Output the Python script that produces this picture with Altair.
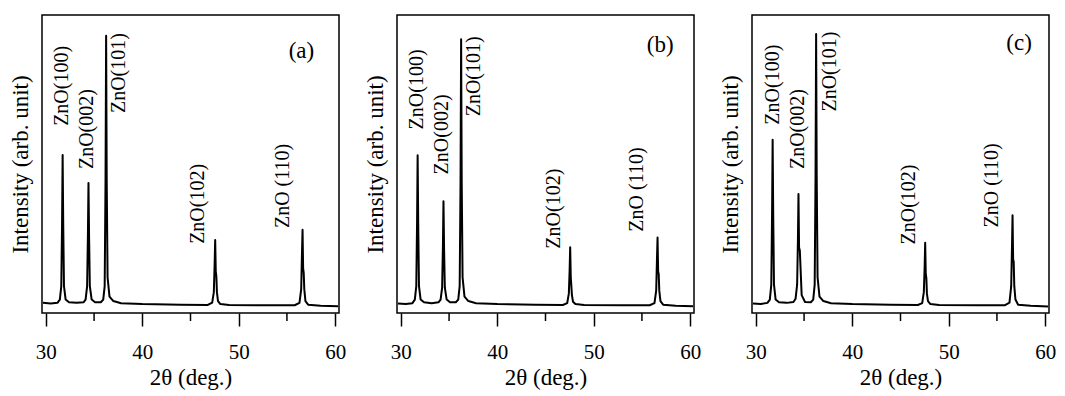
import altair as alt
import pandas as pd

# 2-theta sample positions (deg.)
two_theta = [29.7, 30.5, 31.2, 31.45, 31.6, 31.68, 31.74, 31.8, 31.88, 32.05, 32.4,
             33.2, 33.9, 34.12, 34.28, 34.36, 34.42, 34.48, 34.56, 34.75, 35.1,
             35.7, 35.95, 36.1, 36.19, 36.25, 36.31, 36.4, 36.6, 37.0, 37.8,
             40.0, 44.0, 46.8,
             47.25, 47.42, 47.5, 47.56, 47.62, 47.68, 47.74, 47.85, 48.1, 49.0,
             53.0, 55.8, 56.3, 56.48, 56.56, 56.62, 56.68, 56.74, 56.8, 56.92, 57.2, 58.5, 60.3]

intensity_a = [3.4, 3.2, 3.4, 4.5, 9, 30, 53, 30, 9, 4.5, 3.6,
               3.4, 3.6, 4.5, 9, 26, 43.6, 26, 9, 4.5, 3.6,
               3.6, 4.5, 9, 45, 93, 45, 12, 5.5, 4, 3.3,
               3.0, 2.8, 2.7,
               3.5, 7, 16, 24.5, 14, 12.4, 7, 4, 3, 2.7,
               2.6, 2.6, 3.4, 8, 20, 27.9, 15, 13.5, 8, 4, 2.8, 2.4, 2.3]

intensity_b = [3.2, 3.0, 3.3, 4.5, 9, 30, 52.9, 30, 9, 4.5, 3.6,
               3.3, 3.6, 4.5, 8.5, 22, 37.5, 22, 8.5, 4.5, 3.6,
               3.6, 4.5, 9, 44, 91.9, 44, 12, 5.5, 4, 3.3,
               3.0, 2.8, 2.7,
               3.3, 6.5, 14, 22.1, 12, 9, 6, 3.8, 3, 2.7,
               2.6, 2.6, 3.3, 7.5, 18, 25.3, 14, 13, 7.5, 4, 2.8, 2.4, 2.3]

intensity_c = [3.2, 3.0, 3.4, 4.5, 9.5, 33, 58.1, 33, 9.5, 4.5, 3.6,
               3.4, 3.7, 4.8, 9.5, 24, 39.9, 22, 21, 6, 3.7,
               3.6, 4.5, 9.5, 46, 93.6, 46, 12, 5.5, 4, 3.3,
               3.0, 2.8, 2.7,
               3.3, 7, 15, 23.6, 13, 11.8, 6.5, 4, 3, 2.7,
               2.6, 2.6, 3.5, 9, 22, 32.8, 18, 17.2, 9, 4.5, 2.8, 2.4, 2.2]

peak_labels_a = ["ZnO(100)", "ZnO(002)", "ZnO(101)", "ZnO(102)", "ZnO (110)"]
peak_labels_b = ["ZnO(100)", "ZnO(002)", "ZnO(101)", "ZnO(102)", "ZnO (110)"]
peak_labels_c = ["ZnO(100)", "ZnO(002)", "ZnO(101)", "ZnO(102)", "ZnO (110)"]

label_x_a = [31.64, 34.31, 37.6, 45.79, 54.58]
label_y_a = [62.8, 48.3, 67.1, 23.2, 28.5]
label_x_b = [31.72, 34.29, 37.62, 45.85, 54.5]
label_y_b = [61.6, 46.5, 66.0, 21.6, 27.3]
label_x_c = [31.75, 34.35, 37.7, 45.9, 54.53]
label_y_c = [63.2, 48.3, 67.6, 23.0, 28.7]

panel_tags = ["(a)", "(b)", "(c)"]
tag_x = [56.5, 56.9, 57.3]
tag_y = [88.0, 90.0, 90.5]

minor_ticks = [35, 45, 55]

FONT = "Liberation Serif"
W, H = 297, 298

x_scale = alt.Scale(domain=[29.6, 60.4], nice=False, zero=False)
y_scale = alt.Scale(domain=[0, 100], nice=False)
x_axis = alt.Axis(values=[30, 40, 50, 60], title="2θ (deg.)", tickSize=13,
                  tickWidth=1.5, tickColor="black", labelPadding=15,
                  domain=False, grid=False, labelFontSize=21, labelFont=FONT,
                  labelColor="black", titleFont=FONT, titleColor="black",
                  titleFontWeight="normal", titleFontSize=23, titlePadding=4,
                  format="d")
y_axis = alt.Axis(labels=False, ticks=False, domain=False, grid=False,
                  title="Intensity (arb. unit)", titleFontSize=23, titleFont=FONT,
                  titleColor="black", titleFontWeight="normal", titlePadding=10)


def xe():
    return alt.X("two_theta:Q", scale=x_scale, axis=x_axis)


def ye():
    return alt.Y("intensity:Q", scale=y_scale, axis=y_axis)


def make_panel(intensity, labels, lx, ly, tag, tx, ty):
    df = pd.DataFrame({"two_theta": two_theta, "intensity": intensity})
    line = alt.Chart(df).mark_line(color="black", strokeWidth=2, strokeJoin="round").encode(
        x=xe(), y=ye())
    lab_df = pd.DataFrame({"two_theta": lx, "intensity": ly, "label": labels})
    text = alt.Chart(lab_df).mark_text(angle=270, align="left", baseline="middle",
                                       font=FONT, fontSize=20, color="black").encode(
        x=xe(), y=ye(), text="label:N")
    tag_df = pd.DataFrame({"two_theta": [tx], "intensity": [ty], "label": [tag]})
    tag_text = alt.Chart(tag_df).mark_text(align="center", baseline="middle",
                                           font=FONT, fontSize=23, color="black").encode(
        x=xe(), y=ye(), text="label:N")
    minor_df = pd.DataFrame({"two_theta": minor_ticks})
    minor = alt.Chart(minor_df).mark_rule(color="black", strokeWidth=1.5).encode(
        x=xe(), y=alt.value(H), y2=alt.value(H + 8))
    return alt.layer(line, text, tag_text, minor).properties(width=W, height=H)


pa = make_panel(intensity_a, peak_labels_a, label_x_a, label_y_a, panel_tags[0], tag_x[0], tag_y[0])
pb = make_panel(intensity_b, peak_labels_b, label_x_b, label_y_b, panel_tags[1], tag_x[1], tag_y[1])
pc = make_panel(intensity_c, peak_labels_c, label_x_c, label_y_c, panel_tags[2], tag_x[2], tag_y[2])

chart = alt.hconcat(pa, pb, pc, spacing=16).properties(
    padding={"left": 0, "top": 6, "right": 0, "bottom": 2}
).configure_view(stroke="black", strokeWidth=1.5)

chart.save("out.html", embed_options={"renderer": "svg", "actions": False})
